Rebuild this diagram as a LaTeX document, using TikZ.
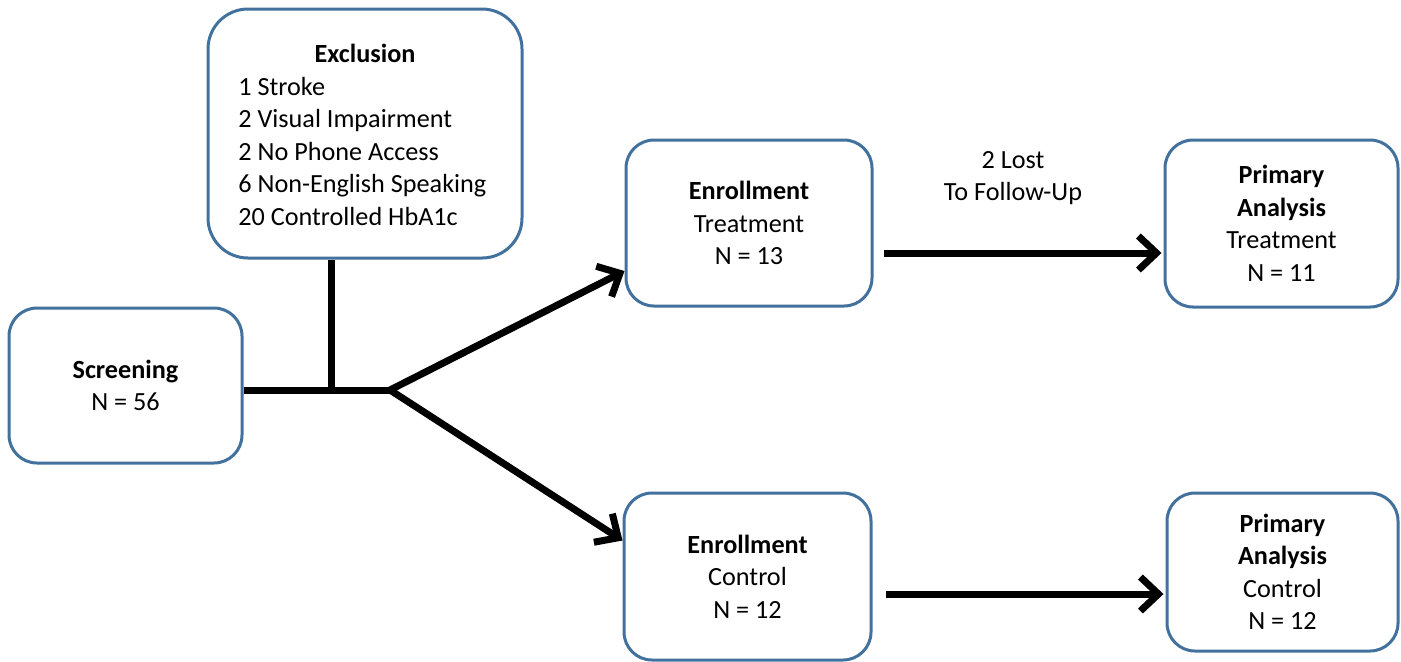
\documentclass[tikz,border=0pt]{standalone}
\usepackage{fontspec}
\setmainfont{Carlito}
\usetikzlibrary{arrows.meta}
\definecolor{boxblue}{RGB}{65,113,156}
\begin{document}
\begin{tikzpicture}[x=0.5pt,y=-0.5pt,
  every node/.style={font=\fontsize{13.1}{16.25}\selectfont},
  box/.style={draw=boxblue,line width=1.5pt,rounded corners=14pt,inner sep=0pt,align=center,fill=white},
  conn/.style={line width=3.5pt},
  arr/.style={line width=3.5pt,-{Straight Barb[length=9pt,width=17pt]}},
  txt/.style={inner sep=0pt}]
\useasboundingbox (0,0) rectangle (1401,661);
% boxes
\node[box,rounded corners=20pt,minimum width=157pt,minimum height=124.5pt] (exc) at (365,133.5) {};
\node[txt,font=\fontsize{13.1}{16.25}\selectfont\bfseries] (exctitle) at (365,53) {Exclusion};
\node[txt,align=left,anchor=west] (exclist) at (238,151) {1 Stroke\\2 Visual Impairment\\2 No Phone Access\\6 Non-English Speaking\\20 Controlled HbA1c};
\node[box,minimum width=116.5pt,minimum height=77.5pt] (scr) at (125.5,385.5) {\textbf{Screening}\\N = 56};
\node[box,minimum width=123pt,minimum height=83pt] (enT) at (749,223) {\textbf{Enrollment}\\Treatment\\N = 13};
\node[box,minimum width=123.5pt,minimum height=83.5pt] (enC) at (747.5,576.5) {\textbf{Enrollment}\\Control\\N = 12};
\node[box,minimum width=116.5pt,minimum height=83.5pt] (paT) at (1281.5,223.5) {\textbf{Primary}\\\textbf{Analysis}\\Treatment\\N = 11};
\node[box,minimum width=115.5pt,minimum height=79pt] (paC) at (1282.5,572) {\textbf{Primary}\\\textbf{Analysis}\\Control\\N = 12};
\node[txt,align=center] (lost) at (1013,178) {2 Lost\\To Follow-Up};
% junctions
\coordinate (jn) at (331,390);
\coordinate (br) at (390,390);
\coordinate (sT) at (884,253);
\coordinate (sC) at (886,594);
% connectors
\draw[conn] (scr.east |- br) -- (br);
\draw[conn] (jn |- exc.south) -- (jn);
\draw[arr] (br) -- ([yshift=-24pt]enT.west);
\draw[arr] (br) -- ([yshift=18pt]enC.west);
\draw[arr] (sT) -- ([xshift=-1pt]paT.west |- sT);
\draw[arr] (sC) -- ([xshift=-1pt]paC.west |- sC);
\end{tikzpicture}
\end{document}
